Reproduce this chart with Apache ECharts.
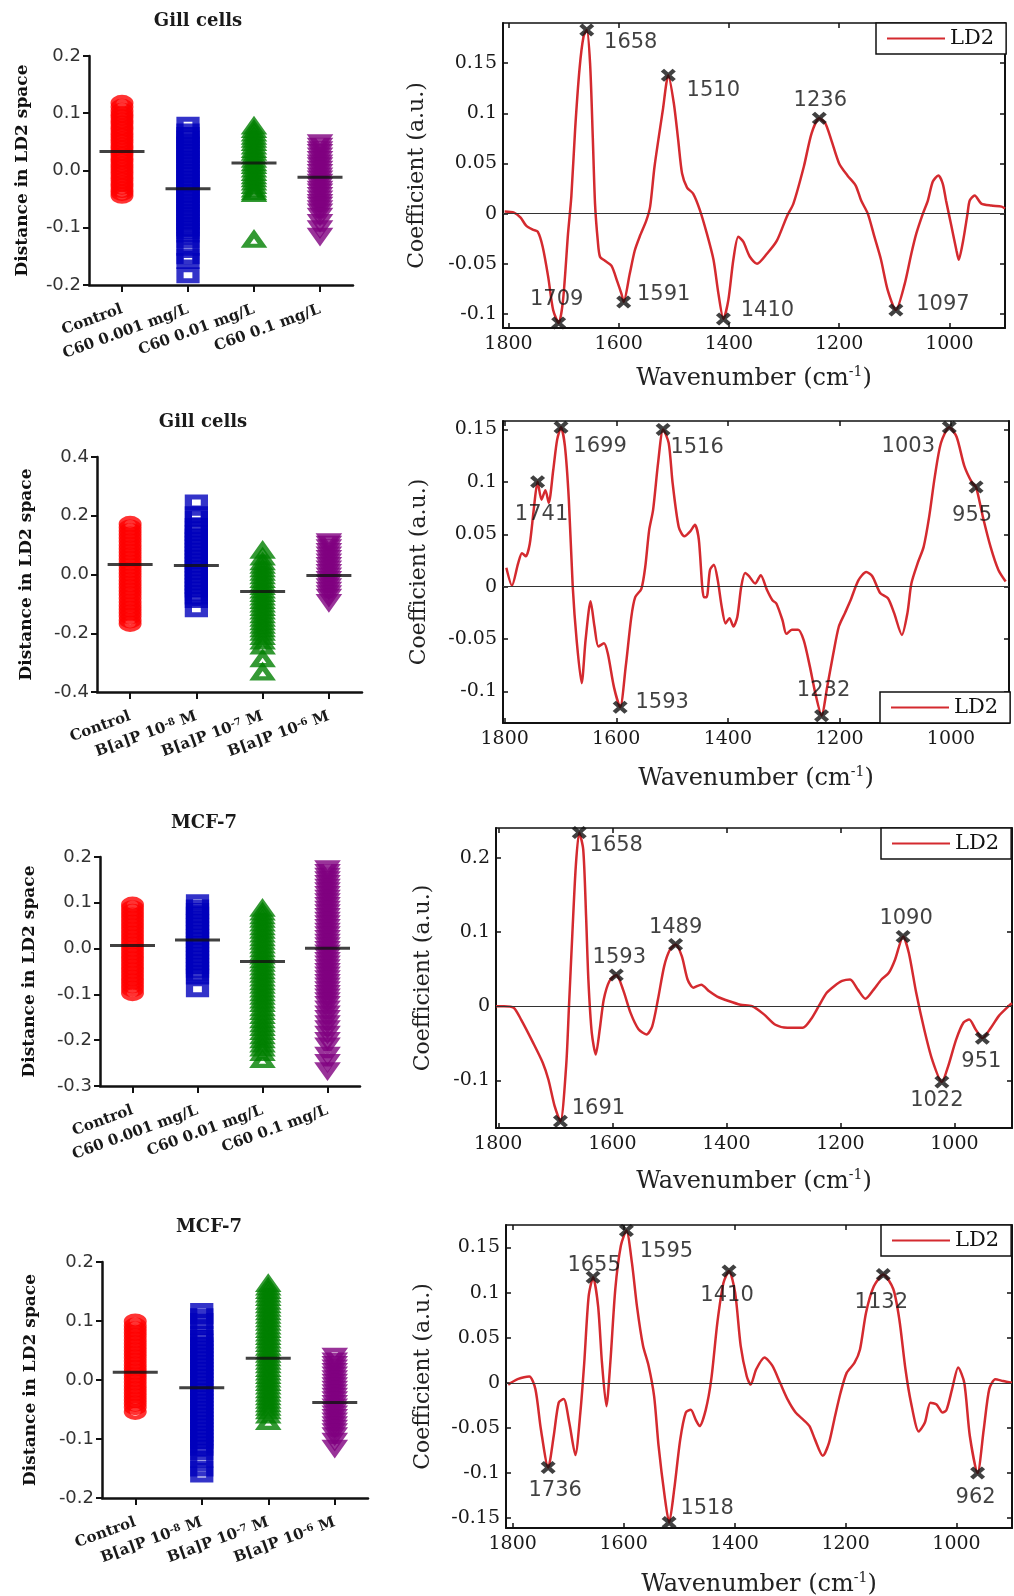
<!DOCTYPE html>
<html><head><meta charset="utf-8">
<script src="https://cdn.jsdelivr.net/npm/echarts@6/dist/echarts.min.js"></script>
<style>html,body{margin:0;padding:0;background:#fff;overflow:hidden}#c{width:1014px;height:1596px}</style>
</head><body><div id="c"></div>
<script>
// ---------------- DATA ----------------
const C60_CATS = ['Control', 'C60 0.001 mg/L', 'C60 0.01 mg/L', 'C60 0.1 mg/L'];
const BAP_CATS = ['Control', 'B[a]P 10^-8 M', 'B[a]P 10^-7 M', 'B[a]P 10^-6 M'];

// Panel A: Gill cells, C60
const L1_YTICKS = [-0.2, -0.1, 0.0, 0.1, 0.2];
const L1_CONTROL = [0.118,0.111,0.104,0.098,0.093,0.087,0.082,0.076,0.071,0.065,0.060,0.054,0.049,0.043,0.038,0.032,0.027,0.021,0.016,0.010,0.005,-0.001,-0.006,-0.012,-0.017,-0.023,-0.028,-0.034,-0.039,-0.044];
const L1_C60_0001 = [0.080,0.068,0.062,0.056,0.051,0.045,0.039,0.033,0.027,0.021,0.016,0.010,0.004,-0.002,-0.008,-0.014,-0.019,-0.025,-0.031,-0.037,-0.043,-0.048,-0.054,-0.060,-0.066,-0.072,-0.077,-0.083,-0.089,-0.095,-0.101,-0.106,-0.112,-0.122,-0.135,-0.150,-0.158,-0.183];
const L1_C60_001 = [0.077,0.071,0.065,0.059,0.054,0.048,0.042,0.036,0.031,0.025,0.019,0.013,0.008,0.002,-0.004,-0.010,-0.015,-0.021,-0.027,-0.033,-0.038,-0.041,-0.121];
const L1_C60_01 = [0.049,0.043,0.037,0.032,0.026,0.020,0.014,0.009,0.003,-0.003,-0.009,-0.014,-0.020,-0.026,-0.032,-0.037,-0.043,-0.049,-0.055,-0.060,-0.066,-0.072,-0.079,-0.090,-0.101,-0.114];
const L1_MEANS = [0.033, -0.032, 0.013, -0.012];

// Panel C: Gill cells, B[a]P
const L2_YTICKS = [-0.4, -0.2, 0.0, 0.2, 0.4];
const L2_CONTROL = [0.172,0.160,0.148,0.136,0.124,0.112,0.100,0.088,0.076,0.064,0.052,0.040,0.028,0.016,0.004,-0.008,-0.020,-0.032,-0.044,-0.056,-0.068,-0.081,-0.094,-0.106,-0.118,-0.130,-0.142,-0.156,-0.168];
const L2_BAP_8 = [0.245,0.205,0.190,0.165,0.153,0.141,0.129,0.117,0.105,0.093,0.081,0.069,0.057,0.045,0.033,0.021,0.009,-0.003,-0.015,-0.027,-0.039,-0.051,-0.063,-0.075,-0.087,-0.118];
const L2_BAP_7 = [0.081,0.058,0.042,0.030,0.018,0.006,-0.006,-0.018,-0.030,-0.042,-0.054,-0.066,-0.078,-0.090,-0.102,-0.114,-0.126,-0.138,-0.150,-0.162,-0.174,-0.186,-0.198,-0.212,-0.228,-0.245,-0.288,-0.333];
const L2_BAP_6 = [0.113,0.104,0.092,0.080,0.068,0.056,0.044,0.032,0.020,0.008,-0.004,-0.016,-0.028,-0.040,-0.052,-0.064,-0.076,-0.094];
const L2_MEANS = [0.034, 0.031, -0.058, -0.003];

// Panel E: MCF-7, C60
const L3_YTICKS = [-0.3, -0.2, -0.1, 0.0, 0.1, 0.2];
const L3_CONTROL = [0.096,0.088,0.080,0.072,0.064,0.056,0.048,0.040,0.032,0.024,0.016,0.008,0.000,-0.008,-0.016,-0.024,-0.032,-0.040,-0.048,-0.056,-0.064,-0.072,-0.080,-0.088,-0.097];
const L3_C60_0001 = [0.101,0.090,0.082,0.074,0.066,0.058,0.050,0.042,0.034,0.026,0.018,0.010,0.002,-0.006,-0.014,-0.022,-0.030,-0.038,-0.046,-0.054,-0.061,-0.089];
const L3_C60_001 = [0.087,0.079,0.071,0.063,0.055,0.047,0.039,0.031,0.023,0.015,0.007,-0.001,-0.009,-0.017,-0.025,-0.033,-0.041,-0.049,-0.057,-0.065,-0.073,-0.081,-0.089,-0.097,-0.105,-0.113,-0.121,-0.130,-0.138,-0.147,-0.156,-0.165,-0.173,-0.182,-0.191,-0.200,-0.209,-0.218,-0.228,-0.243];
const L3_C60_01 = [0.175,0.167,0.159,0.151,0.143,0.135,0.127,0.119,0.111,0.103,0.095,0.087,0.079,0.071,0.063,0.055,0.047,0.039,0.031,0.023,0.015,0.007,-0.001,-0.009,-0.017,-0.025,-0.033,-0.041,-0.049,-0.057,-0.065,-0.073,-0.081,-0.089,-0.097,-0.105,-0.113,-0.121,-0.131,-0.142,-0.152,-0.163,-0.174,-0.186,-0.200,-0.212,-0.232,-0.248,-0.266];
const L3_MEANS = [0.007, 0.019, -0.028, 0.001];

// Panel G: MCF-7, B[a]P
const L4_YTICKS = [-0.2, -0.1, 0.0, 0.1, 0.2];
const L4_CONTROL = [0.099,0.092,0.086,0.080,0.074,0.068,0.062,0.056,0.050,0.044,0.038,0.032,0.026,0.020,0.014,0.008,0.002,-0.004,-0.010,-0.016,-0.022,-0.028,-0.034,-0.040,-0.046,-0.054];
const L4_BAP_8 = [0.117,0.108,0.100,0.090,0.078,0.071,0.065,0.059,0.053,0.047,0.041,0.035,0.029,0.023,0.017,0.011,0.005,-0.001,-0.007,-0.013,-0.019,-0.025,-0.031,-0.037,-0.043,-0.049,-0.055,-0.061,-0.067,-0.073,-0.079,-0.085,-0.091,-0.097,-0.103,-0.109,-0.115,-0.122,-0.135,-0.150,-0.160];
const L4_BAP_7 = [0.163,0.157,0.151,0.145,0.139,0.133,0.127,0.121,0.115,0.109,0.103,0.097,0.091,0.085,0.079,0.073,0.067,0.061,0.055,0.049,0.043,0.037,0.031,0.025,0.019,0.013,0.007,0.001,-0.005,-0.011,-0.017,-0.023,-0.029,-0.035,-0.041,-0.047,-0.053,-0.060,-0.071];
const L4_BAP_6 = [0.041,0.033,0.027,0.021,0.015,0.009,0.003,-0.003,-0.009,-0.015,-0.021,-0.027,-0.033,-0.039,-0.045,-0.051,-0.057,-0.063,-0.069,-0.075,-0.081,-0.087,-0.094,-0.103,-0.115];
const L4_MEANS = [0.013, -0.013, 0.037, -0.038];

// LD2 loadings [wavenumber, coefficient]
const XTICKS = [1000, 1200, 1400, 1600, 1800];
const R1_YTICKS = [-0.1, -0.05, 0, 0.05, 0.1, 0.15];
const R1_LD2 = [[1807,0.002],[1790,0.001],[1778,-0.004],[1768,-0.012],[1756,-0.016],[1747,-0.018],[1738,-0.033],[1728,-0.063],[1719,-0.096],[1709,-0.109],[1701,-0.086],[1692,-0.020],[1686,0.017],[1679,0.085],[1671,0.145],[1664,0.176],[1658,0.183],[1652,0.150],[1647,0.075],[1643,0.010],[1638,-0.027],[1634,-0.043],[1625,-0.047],[1613,-0.052],[1603,-0.067],[1595,-0.080],[1591,-0.088],[1580,-0.060],[1571,-0.037],[1562,-0.023],[1550,-0.007],[1543,0.007],[1535,0.047],[1520,0.103],[1510,0.138],[1500,0.110],[1492,0.073],[1485,0.040],[1476,0.026],[1465,0.020],[1453,0.004],[1440,-0.020],[1428,-0.046],[1419,-0.080],[1410,-0.105],[1401,-0.086],[1392,-0.046],[1383,-0.023],[1374,-0.028],[1362,-0.043],[1349,-0.050],[1331,-0.040],[1313,-0.027],[1295,-0.003],[1283,0.010],[1264,0.047],[1250,0.080],[1236,0.095],[1225,0.090],[1214,0.073],[1200,0.050],[1185,0.038],[1170,0.028],[1160,0.013],[1148,0.000],[1136,-0.023],[1124,-0.046],[1112,-0.076],[1097,-0.096],[1081,-0.070],[1069,-0.040],[1060,-0.020],[1048,0.000],[1039,0.013],[1030,0.032],[1020,0.038],[1012,0.030],[1006,0.013],[996,-0.013],[987,-0.037],[983,-0.046],[975,-0.027],[967,0.000],[963,0.013],[954,0.018],[942,0.010],[924,0.008],[905,0.007],[899,0.005]];
const R1_PEAKS = [[1709,-0.109],[1658,0.183],[1591,-0.088],[1510,0.138],[1410,-0.105],[1236,0.095],[1097,-0.096]];

const R2_YTICKS = [-0.1, -0.05, 0, 0.05, 0.1, 0.15];
const R2_LD2 = [[1797,0.018],[1787,0.001],[1776,0.022],[1769,0.032],[1762,0.029],[1755,0.041],[1748,0.073],[1741,0.100],[1734,0.083],[1727,0.092],[1721,0.080],[1713,0.111],[1706,0.140],[1699,0.152],[1692,0.134],[1685,0.083],[1678,0.000],[1671,-0.051],[1662,-0.092],[1655,-0.051],[1646,-0.014],[1639,-0.038],[1632,-0.057],[1622,-0.054],[1615,-0.064],[1604,-0.096],[1593,-0.115],[1583,-0.076],[1573,-0.029],[1566,-0.010],[1555,-0.002],[1548,0.019],[1541,0.054],[1534,0.073],[1525,0.118],[1516,0.150],[1506,0.137],[1499,0.099],[1488,0.057],[1478,0.048],[1467,0.053],[1459,0.059],[1452,0.045],[1443,-0.010],[1438,-0.010],[1432,0.016],[1425,0.021],[1418,0.006],[1411,-0.019],[1404,-0.035],[1397,-0.030],[1390,-0.038],[1383,-0.029],[1376,0.000],[1369,0.013],[1362,0.010],[1351,0.003],[1341,0.011],[1330,-0.003],[1320,-0.013],[1313,-0.016],[1302,-0.032],[1295,-0.045],[1285,-0.041],[1274,-0.041],[1264,-0.051],[1253,-0.076],[1243,-0.102],[1232,-0.123],[1222,-0.096],[1211,-0.064],[1201,-0.038],[1190,-0.025],[1180,-0.013],[1166,0.006],[1152,0.014],[1141,0.010],[1127,-0.006],[1113,-0.011],[1102,-0.025],[1088,-0.046],[1078,-0.025],[1071,0.003],[1060,0.022],[1049,0.038],[1039,0.067],[1029,0.105],[1018,0.137],[1003,0.152],[990,0.143],[976,0.115],[962,0.099],[955,0.095],[943,0.067],[929,0.038],[915,0.016],[902,0.005]];
const R2_PEAKS = [[1741,0.100],[1699,0.152],[1593,-0.115],[1516,0.150],[1232,-0.123],[1003,0.152],[955,0.095]];

const R3_YTICKS = [-0.1, 0, 0.1, 0.2];
const R3_LD2 = [[1804,0.000],[1790,0.000],[1773,-0.002],[1760,-0.018],[1739,-0.049],[1722,-0.076],[1712,-0.099],[1701,-0.135],[1691,-0.155],[1681,-0.081],[1676,0.000],[1670,0.099],[1664,0.189],[1658,0.234],[1651,0.211],[1646,0.121],[1642,0.036],[1636,-0.036],[1629,-0.065],[1622,-0.031],[1615,0.009],[1605,0.034],[1593,0.042],[1581,0.022],[1568,-0.009],[1554,-0.031],[1540,-0.038],[1530,-0.027],[1520,0.009],[1509,0.054],[1499,0.076],[1489,0.083],[1478,0.067],[1468,0.036],[1458,0.025],[1444,0.029],[1430,0.020],[1416,0.013],[1396,0.007],[1375,0.002],[1355,0.000],[1334,-0.011],[1314,-0.025],[1293,-0.029],[1266,-0.029],[1252,-0.018],[1238,0.000],[1224,0.018],[1211,0.027],[1197,0.034],[1183,0.036],[1169,0.022],[1156,0.010],[1142,0.022],[1128,0.036],[1115,0.045],[1104,0.063],[1090,0.094],[1080,0.072],[1067,0.018],[1053,-0.031],[1039,-0.072],[1022,-0.102],[1011,-0.081],[997,-0.045],[984,-0.022],[974,-0.018],[963,-0.031],[951,-0.043],[936,-0.029],[922,-0.013],[905,0.000],[899,0.004]];
const R3_PEAKS = [[1691,-0.155],[1658,0.234],[1593,0.042],[1489,0.083],[1090,0.094],[1022,-0.102],[951,-0.043]];

const R4_YTICKS = [-0.15, -0.1, -0.05, 0, 0.05, 0.1, 0.15];
const R4_LD2 = [[1808,-0.002],[1791,0.004],[1770,0.007],[1759,-0.007],[1749,-0.052],[1736,-0.094],[1726,-0.059],[1717,-0.022],[1708,-0.018],[1698,-0.044],[1687,-0.080],[1678,-0.033],[1671,0.022],[1663,0.096],[1655,0.117],[1646,0.085],[1639,0.022],[1631,-0.026],[1624,0.022],[1615,0.104],[1605,0.152],[1595,0.169],[1585,0.133],[1576,0.085],[1565,0.041],[1555,0.019],[1545,-0.015],[1537,-0.070],[1526,-0.126],[1518,-0.155],[1509,-0.119],[1498,-0.063],[1488,-0.033],[1479,-0.030],[1470,-0.041],[1463,-0.048],[1452,-0.030],[1442,0.004],[1431,0.067],[1420,0.111],[1410,0.124],[1399,0.100],[1389,0.041],[1378,0.007],[1371,-0.002],[1361,0.015],[1346,0.028],[1332,0.019],[1318,0.000],[1304,-0.019],[1290,-0.033],[1276,-0.041],[1265,-0.048],[1255,-0.063],[1241,-0.081],[1230,-0.067],[1219,-0.037],[1209,-0.011],[1198,0.011],[1184,0.022],[1174,0.037],[1163,0.078],[1149,0.107],[1132,0.120],[1114,0.104],[1103,0.070],[1092,0.015],[1082,-0.022],[1068,-0.054],[1057,-0.044],[1047,-0.022],[1036,-0.024],[1025,-0.033],[1018,-0.030],[1008,-0.007],[997,0.017],[986,0.000],[976,-0.059],[962,-0.100],[951,-0.052],[941,-0.007],[930,0.004],[916,0.002],[900,0.000]];
const R4_PEAKS = [[1736,-0.094],[1655,0.117],[1595,0.169],[1518,-0.155],[1410,0.124],[1132,0.120],[962,-0.100]];

// ---------------- LAYOUT / STYLE ----------------
const GROUP_COLORS = ['#ff0000', '#0000bb', '#008000', '#800080'];
const GROUP_SYMBOLS = ['circle', 'rect', 'triangle', 'triangle'];
const GROUP_ROTATE = [0, 0, 0, 180];
const GROUP_SIZE = [[17,12], [16,11], [17,12], [17,12]];
const GROUP_BORDER = [5, 6, 5, 5];
const LINE_RED = '#d42a2f';
const XMARK = 'path://M0,3L3,0L7,4L11,0L14,3L10,7L14,11L11,14L7,10L3,14L0,11L4,7Z';

const LEFT = [
  {title:'Gill cells', tpos:[198,21], cats:C60_CATS, groups:[L1_CONTROL,L1_C60_0001,L1_C60_001,L1_C60_01], means:L1_MEANS, yt:L1_YTICKS, grid:[89,56,264,229], gap:58},
  {title:'Gill cells', tpos:[203,422], cats:BAP_CATS, groups:[L2_CONTROL,L2_BAP_8,L2_BAP_7,L2_BAP_6], means:L2_MEANS, yt:L2_YTICKS, grid:[97,457,265,235], gap:62},
  {title:'MCF-7', tpos:[204,823], cats:C60_CATS, groups:[L3_CONTROL,L3_C60_0001,L3_C60_001,L3_C60_01], means:L3_MEANS, yt:L3_YTICKS, grid:[100,857,260,229], gap:62},
  {title:'MCF-7', tpos:[209,1227], cats:BAP_CATS, groups:[L4_CONTROL,L4_BAP_8,L4_BAP_7,L4_BAP_6], means:L4_MEANS, yt:L4_YTICKS, grid:[102,1262,266,236], gap:63}
];
const RIGHT = [
  {curve:R1_LD2, peaks:R1_PEAKS, yt:R1_YTICKS, xr:[899,1810], yr:[-0.114,0.19], grid:[503,23,502,305], ygap:75, xgap:37, legend:[876,23],
   offs:{1709:[-2,-23],1658:[44,13],1591:[40,-7],1510:[45,15],1410:[44,-8],1236:[1,-18],1097:[47,-5]}},
  {curve:R2_LD2, peaks:R2_PEAKS, yt:R2_YTICKS, xr:[896,1803], yr:[-0.13,0.158], grid:[503,421,506,302], ygap:73, xgap:42, legend:[880,692],
   offs:{1741:[4,33],1699:[39,19],1593:[42,-5],1516:[34,18],1232:[2,-25],1003:[-41,19],955:[-4,28]}},
  {curve:R3_LD2, peaks:R3_PEAKS, yt:R3_YTICKS, xr:[899,1804], yr:[-0.164,0.24], grid:[496,828,516,300], ygap:62, xgap:40, legend:[881,828],
   offs:{1691:[38,-13],1658:[37,13],1593:[3,-17],1489:[0,-17],1090:[3,-18],1022:[-5,19],951:[-1,23]}},
  {curve:R4_LD2, peaks:R4_PEAKS, yt:R4_YTICKS, xr:[900,1812], yr:[-0.161,0.175], grid:[506,1225,506,303], ygap:72, xgap:43, legend:[881,1225],
   offs:{1736:[7,23],1655:[1,-12],1595:[40,21],1518:[38,-14],1410:[-2,25],1132:[-2,28],962:[-2,25]}}
];

const grids = [], xAxes = [], yAxes = [], series = [], legends = [], graphics = [];
const supFmt = s => s.replace(/\^(-?\d+)/, '{s|$1}');

LEFT.forEach(p => {
  const g = grids.length;
  grids.push({left:p.grid[0], top:p.grid[1], width:p.grid[2], height:p.grid[3], containLabel:false, outerBoundsMode:'none'});
  const step = Math.round((p.yt[1] - p.yt[0]) * 1000) / 1000;
  const xi = xAxes.length;
  xAxes.push({gridIndex:g, type:'category', data:p.cats, boundaryGap:true,
    axisLine:{show:true, onZero:false, lineStyle:{color:'#111', width:2.5}},
    axisTick:{show:true, alignWithLabel:true, length:7, lineStyle:{color:'#111', width:2}},
    axisLabel:{interval:0, rotate:20, margin:24, fontFamily:'DejaVu Serif', fontWeight:'bold', fontSize:15, color:'#1a1a1a',
      formatter:supFmt,
      rich:{s:{fontFamily:'DejaVu Serif', fontWeight:'bold', fontSize:10, lineHeight:10, verticalAlign:'top', color:'#1a1a1a'}}},
    splitLine:{show:false}});
  const yi = yAxes.length;
  yAxes.push({gridIndex:g, type:'value', min:p.yt[0], max:p.yt[p.yt.length-1], interval:step,
    axisLine:{show:true, onZero:false, lineStyle:{color:'#111', width:2.5}},
    axisTick:{show:true, length:6, lineStyle:{color:'#111', width:2}},
    axisLabel:{margin:8, fontFamily:'DejaVu Sans', fontSize:18, color:'#333',
      formatter:v => (Math.abs(v) < 1e-9 ? 0 : v).toFixed(1)},
    splitLine:{show:false},
    name:'Distance in LD2 space', nameLocation:'middle', nameRotate:90, nameGap:p.gap, nameMoveOverlap:false,
    nameTextStyle:{fontFamily:'DejaVu Serif', fontWeight:'bold', fontSize:17, color:'#111'}});
  p.groups.forEach((vals, k) => {
    series.push({type:'scatter', name:p.cats[k], xAxisIndex:xi, yAxisIndex:yi, silent:true, z:2,
      symbol:GROUP_SYMBOLS[k], symbolRotate:GROUP_ROTATE[k], symbolSize:GROUP_SIZE[k],
      itemStyle:{color:'rgba(0,0,0,0)', borderColor:GROUP_COLORS[k], borderWidth:GROUP_BORDER[k]},
      data:vals.map(v => [k, v])});
  });
  series.push({type:'scatter', name:'mean', xAxisIndex:xi, yAxisIndex:yi, silent:true, z:5,
    symbol:'rect', symbolSize:[45,3], itemStyle:{color:'#111'},
    data:p.means.map((m, k) => [k, m])});
  graphics.push({type:'text', x:p.tpos[0], y:p.tpos[1], silent:true,
    style:{text:p.title, font:'bold 18px "DejaVu Serif"', fill:'#1a1a1a', align:'center', verticalAlign:'middle', textAlign:'center', textVerticalAlign:'middle'}});
});

RIGHT.forEach(p => {
  const g = grids.length;
  grids.push({left:p.grid[0], top:p.grid[1], width:p.grid[2], height:p.grid[3], containLabel:false, outerBoundsMode:'none'});
  const xi = xAxes.length;
  xAxes.push({gridIndex:g, type:'value', position:'bottom', inverse:true, min:p.xr[0], max:p.xr[1],
    axisLine:{show:true, onZero:false, lineStyle:{color:'#111', width:2}},
    axisTick:{show:true, inside:true, length:5, customValues:XTICKS, lineStyle:{color:'#111', width:1.5}},
    axisLabel:{show:true, customValues:XTICKS, margin:7, fontFamily:'DejaVu Serif', fontSize:19, color:'#1a1a1a', formatter:v => String(v)},
    splitLine:{show:false},
    name:'Wavenumber (cm{s|-1})', nameLocation:'middle', nameGap:p.xgap, nameMoveOverlap:false,
    nameTextStyle:{fontFamily:'DejaVu Serif', fontSize:24, color:'#222', lineHeight:28,
      rich:{s:{fontFamily:'DejaVu Serif', fontSize:14, lineHeight:14, verticalAlign:'top', color:'#222'}}}});
  xAxes.push({gridIndex:g, type:'value', position:'top', inverse:true, min:p.xr[0], max:p.xr[1],
    axisLine:{show:true, onZero:false, lineStyle:{color:'#111', width:1.5}},
    axisTick:{show:true, inside:true, length:5, customValues:XTICKS, lineStyle:{color:'#111', width:1.5}},
    axisLabel:{show:false}, splitLine:{show:false}});
  const yi = yAxes.length;
  yAxes.push({gridIndex:g, type:'value', position:'left', min:p.yr[0], max:p.yr[1],
    axisLine:{show:true, onZero:false, lineStyle:{color:'#111', width:2}},
    axisTick:{show:true, inside:true, length:5, customValues:p.yt, lineStyle:{color:'#111', width:1.5}},
    axisLabel:{show:true, customValues:p.yt, margin:6, fontFamily:'DejaVu Serif', fontSize:19, color:'#1a1a1a', formatter:v => String(v)},
    splitLine:{show:false},
    name:'Coefficient (a.u.)', nameLocation:'middle', nameRotate:90, nameGap:p.ygap, nameMoveOverlap:false,
    nameTextStyle:{fontFamily:'DejaVu Serif', fontSize:22, color:'#222'}});
  yAxes.push({gridIndex:g, type:'value', position:'right', min:p.yr[0], max:p.yr[1],
    axisLine:{show:true, onZero:false, lineStyle:{color:'#111', width:2}},
    axisTick:{show:true, inside:true, length:5, customValues:p.yt, lineStyle:{color:'#111', width:1.5}},
    axisLabel:{show:false}, splitLine:{show:false}});
  series.push({type:'line', name:'LD2', xAxisIndex:xi, yAxisIndex:yi, silent:true, z:2,
    data:p.curve, showSymbol:false, symbol:'none', smooth:0.25,
    lineStyle:{color:LINE_RED, width:2.5}, itemStyle:{color:LINE_RED},
    markLine:{silent:true, symbol:['none','none'], label:{show:false}, animation:false,
      lineStyle:{color:'#333', width:1, type:'solid'}, data:[{yAxis:0}]}});
  series.push({type:'scatter', name:'peaks', xAxisIndex:xi, yAxisIndex:yi, silent:true, z:4,
    symbol:XMARK, symbolSize:[15,13], itemStyle:{color:'#111'},
    label:{show:true, position:'inside', fontFamily:'DejaVu Sans', fontSize:21, color:'#111',
      formatter:q => String(q.value[0])},
    data:p.peaks.map(pk => ({value:pk, label:{offset:p.offs[pk[0]] || [0,-18]}}))});
  legends.push({show:true, left:p.legend[0], top:p.legend[1], orient:'horizontal', selectedMode:false,
    data:[{name:'LD2', icon:'rect'}], itemWidth:58, itemHeight:2,
    itemStyle:{color:LINE_RED, borderWidth:0},
    padding:[5,12,5,11], borderColor:'#111', borderWidth:1.5, backgroundColor:'#fff',
    textStyle:{fontFamily:'DejaVu Serif', fontSize:21, color:'#111'}});
});

const chart = echarts.init(document.getElementById('c'), null, {renderer:'canvas', width:1014, height:1596});
chart.setOption({
  animation:false,
  backgroundColor:'#fff',
  grid:grids, xAxis:xAxes, yAxis:yAxes, series:series, legend:legends, graphic:graphics,
  tooltip:{show:false}
});
</script></body></html>
